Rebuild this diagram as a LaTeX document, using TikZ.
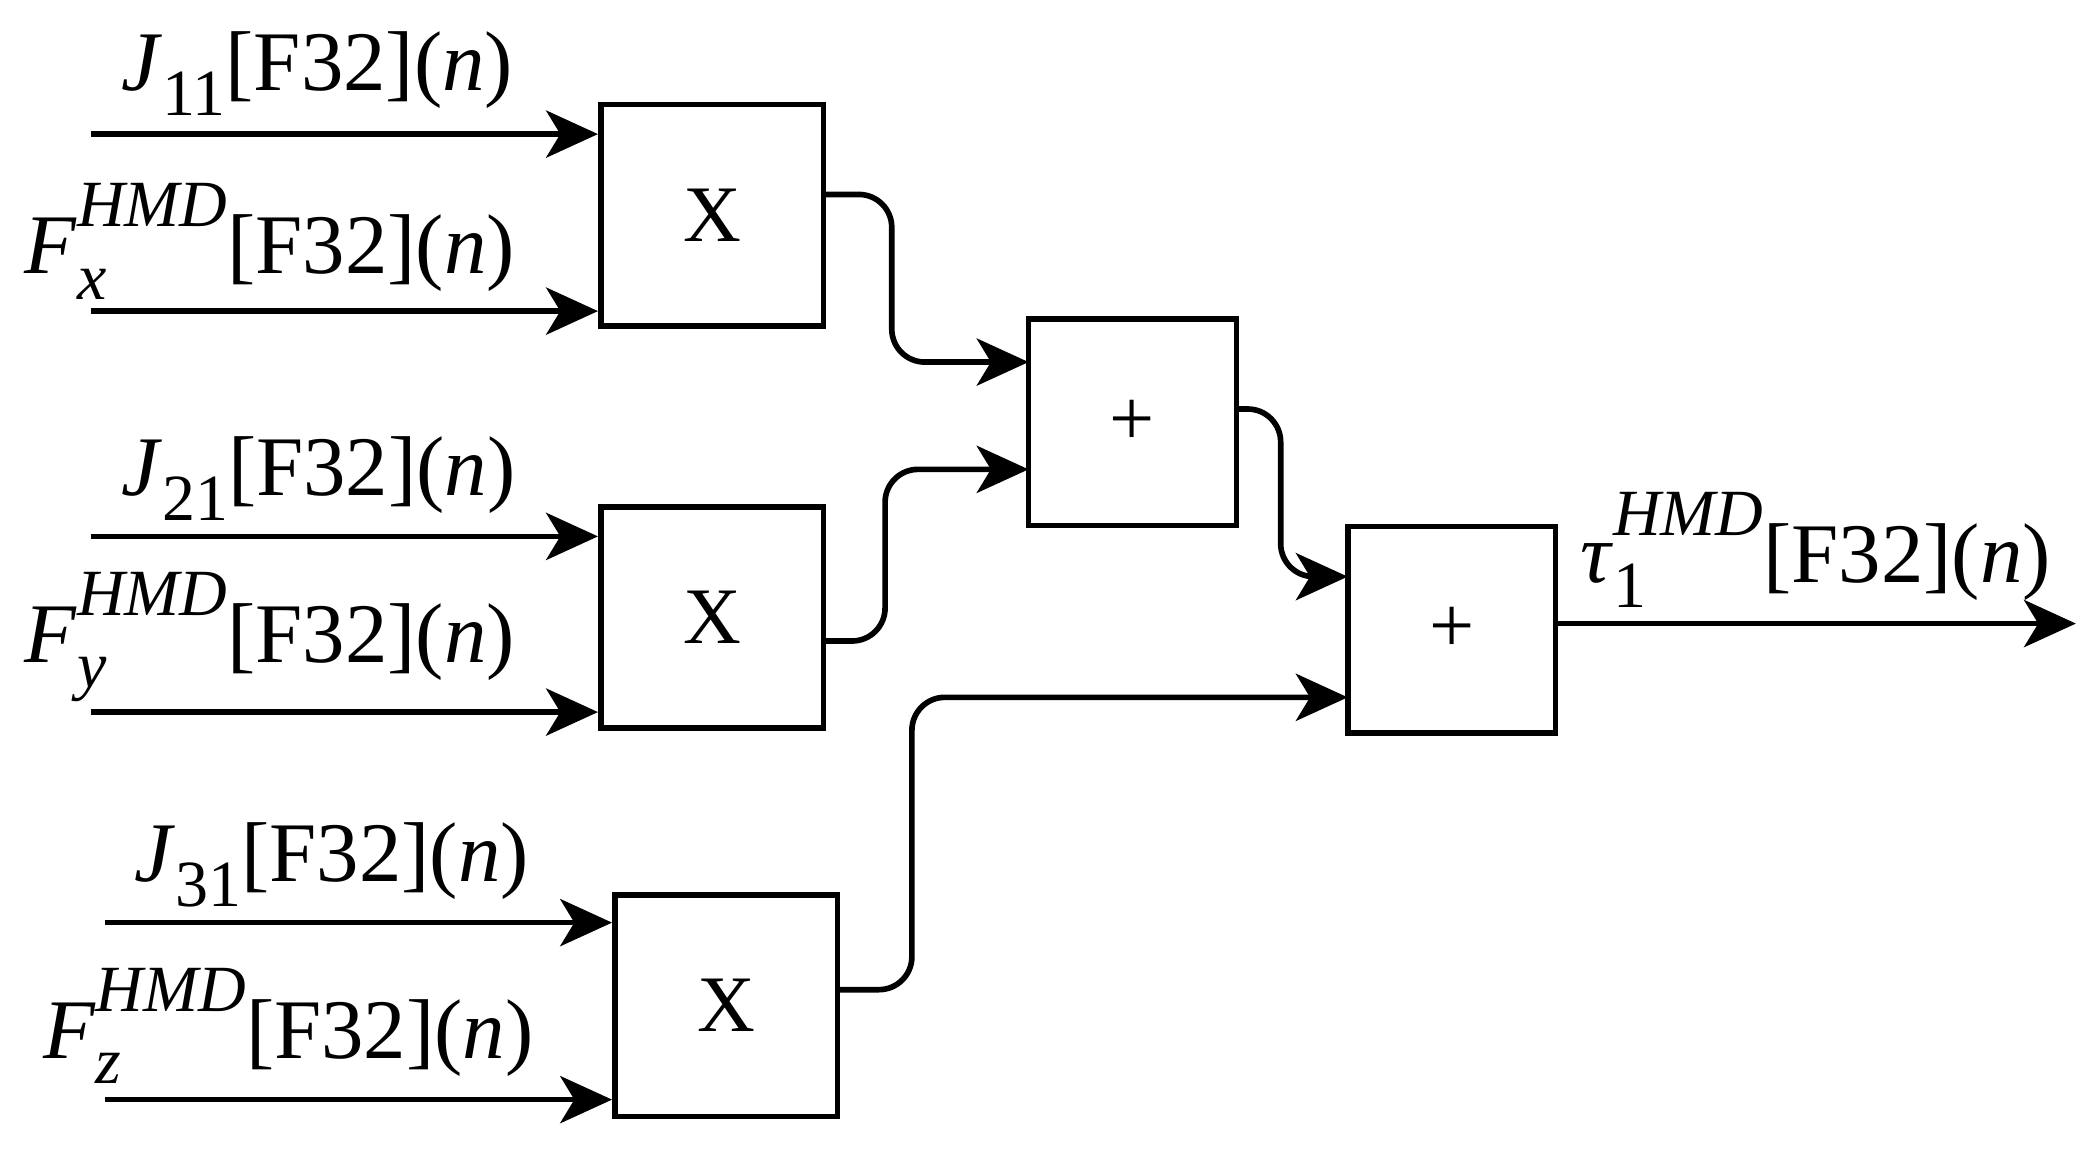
\documentclass[tikz,border=0pt]{standalone}
\usepackage{fontspec}
\setmainfont{Liberation Serif}
\usetikzlibrary{arrows.meta}
\newcommand{\sbs}[1]{\raisebox{-0.3em}{\fontsize{28}{30}\selectfont #1}}
\newcommand{\sps}[1]{\raisebox{0.55em}{\fontsize{28}{30}\selectfont\itshape #1}}
\newcommand{\subsup}[2]{\makebox[0pt][l]{\raisebox{-0.3em}{\fontsize{28}{30}\selectfont\itshape #1}}\raisebox{0.55em}{\fontsize{28}{30}\selectfont\itshape #2}}
\begin{document}
\begin{tikzpicture}[x=0.02cm,y=-0.02cm,
 box/.style={draw,line width=2.4pt,minimum width=3.32cm,minimum height=3.3cm,inner sep=0pt,font=\fontsize{34}{40}\selectfont},
 pbox/.style={box,minimum width=3.1cm,minimum height=3.08cm},
 arr/.style={line width=2.4pt,-{Stealth[length=22pt,width=20pt,inset=6pt]}},
 wire/.style={arr,rounded corners=14pt},
 lab/.style={font=\fontsize{36}{40}\selectfont,inner sep=0pt}]
\useasboundingbox (0,0) rectangle (1560,864);
\node[box] (b1) at (531,160.5) {X};
\node[box] (b2) at (531,460.5) {X};
\node[box] (b3) at (541.5,750) {X};
\node[pbox] (p1) at (844.5,315) {+};
\node[pbox] (p2) at (1082.5,469.5) {+};
\foreach \n/\y/\x in {a/100/68,b/232/68,c/400/68,d/531/68,e/688/78,f/820/78}{\coordinate (s\n) at (\x,\y);}
\draw[arr] (sa) -- (sa-|b1.west);
\draw[arr] (sb) -- (sb-|b1.west);
\draw[arr] (sc) -- (sc-|b2.west);
\draw[arr] (sd) -- (sd-|b2.west);
\draw[arr] (se) -- (se-|b3.west);
\draw[arr] (sf) -- (sf-|b3.west);
\node[lab,anchor=west] (l1) at (90,55) {\textit{J}\sbs{11}[F32](\textit{n})};
\node[lab,anchor=west] (l2) at (18,180) {\textit{F}\subsup{x}{HMD}[F32](\textit{n})};
\node[lab,anchor=west] (l3) at (90,357) {\textit{J}\sbs{21}[F32](\textit{n})};
\node[lab,anchor=west] (l4) at (18,475) {\textit{F}\subsup{y}{HMD}[F32](\textit{n})};
\node[lab,anchor=west] (l5) at (100,645) {\textit{J}\sbs{31}[F32](\textit{n})};
\node[lab,anchor=west] (l6) at (32,765) {\textit{F}\subsup{z}{HMD}[F32](\textit{n})};
\node[lab,anchor=west] (l7) at (1178,410) {\textit{τ}\subsup{\upshape 1}{HMD}[F32](\textit{n})};
\coordinate (o1) at (614,145); \coordinate (i1) at (767,270);
\coordinate (o2) at (614,478); \coordinate (i2) at (767,350);
\coordinate (o3) at (625,738); \coordinate (i3) at (1005,520);
\coordinate (o4) at (922,305); \coordinate (i4) at (1005,430);
\coordinate (out) at (1548,465);
\draw[wire] (o1) -- (665,145) -- (665,270) -- (i1);
\draw[wire] (o2) -- (660,478) -- (660,350) -- (i2);
\draw[wire] (o3) -- (680,738) -- (680,520) -- (i3);
\draw[wire] (o4) -- (955,305) -- (955,430) -- (i4);
\draw[arr] (p2.east|-out) -- (out);
\end{tikzpicture}
\end{document}
